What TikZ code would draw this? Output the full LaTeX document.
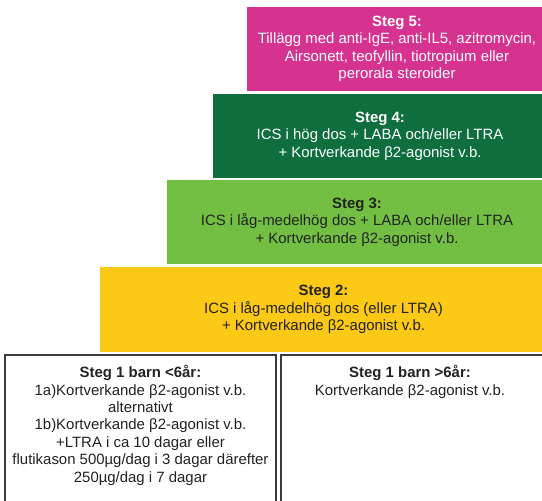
\documentclass[tikz,border=0pt]{standalone}
\usepackage{fontspec}
\setmainfont{Liberation Sans}
\definecolor{pinkfive}{RGB}{214,51,144}
\definecolor{greenfour}{RGB}{14,110,62}
\definecolor{greenthree}{RGB}{114,191,68}
\definecolor{yellowtwo}{RGB}{252,201,23}
\definecolor{txtdark}{RGB}{34,34,34}
\definecolor{bordergray}{RGB}{60,60,60}
\begin{document}
\begin{tikzpicture}[x=0.75pt,y=-0.75pt,
  stepbox/.style={rectangle, anchor=north west, inner sep=0pt, outer sep=0pt,
    minimum height={84*0.75pt}, align=center, font=\fontsize{11.2}{13.1}\selectfont},
  onebox/.style={rectangle, anchor=north west, inner sep=0pt, outer sep=0pt,
    draw=bordergray, line width=1.2pt, minimum height={170*0.75pt}},
  onetext/.style={anchor=north, align=center, inner sep=0pt, text=txtdark,
    font=\fontsize{11.2}{13.1}\selectfont}]
\clip (0,0) rectangle (542,500);
\fill[white] (0,0) rectangle (542,500);
\node[stepbox, fill=pinkfive, text=white, minimum width={300*0.75pt}] (s5) at (247,7)
  {\textbf{Steg 5:}\\Tillägg med anti-IgE, anti-IL5, azitromycin,\\Airsonett, teofyllin, tiotropium eller\\perorala steroider};
\node[stepbox, fill=greenfour, text=white, minimum width={334*0.75pt}] (s4) at (213,94)
  {\textbf{Steg 4:}\\ICS i hög dos + LABA och/eller LTRA\\+ Kortverkande β2-agonist v.b.};
\node[stepbox, fill=greenthree, text=txtdark, minimum width={380*0.75pt}] (s3) at (167,180)
  {\textbf{Steg 3:}\\ICS i låg-medelhög dos + LABA och/eller LTRA\\+ Kortverkande β2-agonist v.b.};
\node[stepbox, fill=yellowtwo, text=txtdark, minimum width={447*0.75pt}, minimum height={85*0.75pt}] (s2) at (100,267)
  {\textbf{Steg 2:}\\ICS i låg-medelhög dos (eller LTRA)\\+ Kortverkande β2-agonist v.b.};
\node[onebox, minimum width={271*0.75pt}] (s1a) at (5,355) {};
\node[onebox, minimum width={275*0.75pt}] (s1b) at (281,355) {};
\node[onetext] (s1at) at (140.5,365)
  {\textbf{Steg 1 barn <6år:}\\1a)Kortverkande β2-agonist v.b.\\alternativt\\1b)Kortverkande β2-agonist v.b.\\+LTRA i ca 10 dagar eller\\flutikason 500µg/dag i 3 dagar därefter\\250µg/dag i 7 dagar};
\node[onetext] (s1bt) at (410,365)
  {\textbf{Steg 1 barn >6år:}\\Kortverkande β2-agonist v.b.};
\end{tikzpicture}
\end{document}
